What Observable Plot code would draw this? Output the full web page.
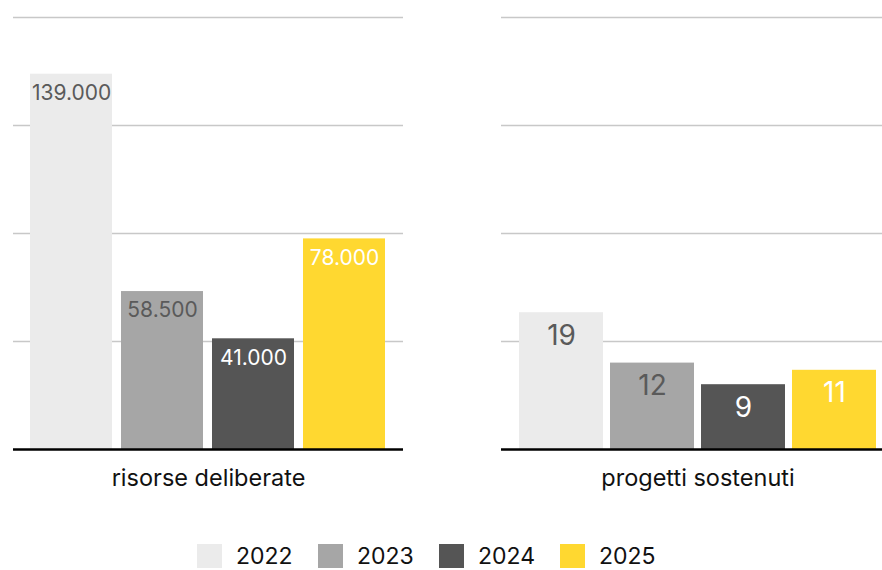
<!DOCTYPE html>
<html>
<head>
<meta charset="utf-8">
<script src="https://cdn.jsdelivr.net/npm/d3@7"></script>
<script src="https://cdn.jsdelivr.net/npm/@observablehq/plot@0.6"></script>
<style>
  html, body { margin: 0; padding: 0; background: #fff; }
  body { font-family: Inter, "Noto Sans", sans-serif; width: 882px; }
  #charts { display: flex; width: 882px; }
  #legend { display: flex; justify-content: flex-start; align-items: center; margin-top: 44px; height: 24px; padding-left: 197px; }
  .item { display: flex; align-items: center; width: 121px; height: 24px; }
  .sw { width: 25px; height: 24px; margin-right: 14px; flex: none; }
  .lab { font-size: 23px; color: #111; line-height: 24px; }
</style>
</head>
<body>
<div id="charts"></div>
<div id="legend"></div>
<script>
const years = ["2022", "2023", "2024", "2025"];
const risorse = [139000, 58500, 41000, 78000];
const progetti = [19, 12, 9, 11];
const barColors = ["#ebebeb", "#a6a6a6", "#555555", "#ffd830"];
const labelColors = ["#5a5a5a", "#5a5a5a", "#ffffff", "#ffffff"];
const panelTitles = ["risorse deliberate", "progetti sostenuti"];
const risorseTicks = [40000, 80000, 120000, 160000];
const progettiTicks = [15, 30, 45, 60];

const it = d3.formatLocale({decimal: ",", thousands: ".", grouping: [3], currency: ["€", ""]});
const fmt = it.format(",");

function panel(values, ticks, title, opts) {
  const data = years.map((y, i) => ({year: y, value: values[i], color: barColors[i], lc: labelColors[i]}));
  return Plot.plot({
    width: 441,
    height: 500,
    marginTop: 17,
    marginBottom: 51,
    marginLeft: opts.ml,
    marginRight: opts.mr,
    style: {fontFamily: "Inter, 'Noto Sans', sans-serif", background: "#fff"},
    x: {domain: years, axis: null, paddingInner: opts.pi, paddingOuter: opts.po, align: opts.align},
    y: {domain: [0, ticks[ticks.length - 1]], axis: null},
    marks: [
      Plot.ruleY(ticks, {stroke: "#c8c8c8", strokeWidth: 1.3}),
      Plot.barY(data, {x: "year", y: "value", fill: "color"}),
      Plot.ruleY([0], {stroke: "#000", strokeWidth: 2.5}),
      Plot.text(data, {x: "year", y: "value", text: d => fmt(d.value), fill: "lc", dy: opts.dy, fontSize: opts.fs, lineAnchor: "middle", fontWeight: 400}),
      Plot.text([title], {text: d => d, frameAnchor: "bottom", dy: 29, dx: opts.tdx, fontSize: 23.5, fill: "#111", lineAnchor: "middle"})
    ]
  });
}

const charts = document.getElementById("charts");
charts.appendChild(panel(risorse, risorseTicks, panelTitles[0], {ml: 13, mr: 38, pi: 0.0945, po: 0.175, align: 0.5, dy: 19, fs: 21, tdx: 0}));
charts.appendChild(panel(progetti, progettiTicks, panelTitles[1], {ml: 60, mr: 0, pi: 0.078, po: 0.1165, align: 0.75, dy: 23, fs: 28, tdx: 6}));

const legend = document.getElementById("legend");
years.forEach((y, i) => {
  const item = document.createElement("div");
  item.className = "item";
  const sw = document.createElement("div");
  sw.className = "sw";
  sw.style.background = barColors[i];
  const lab = document.createElement("span");
  lab.className = "lab";
  lab.textContent = y;
  item.appendChild(sw);
  item.appendChild(lab);
  legend.appendChild(item);
});
</script>
</body>
</html>
